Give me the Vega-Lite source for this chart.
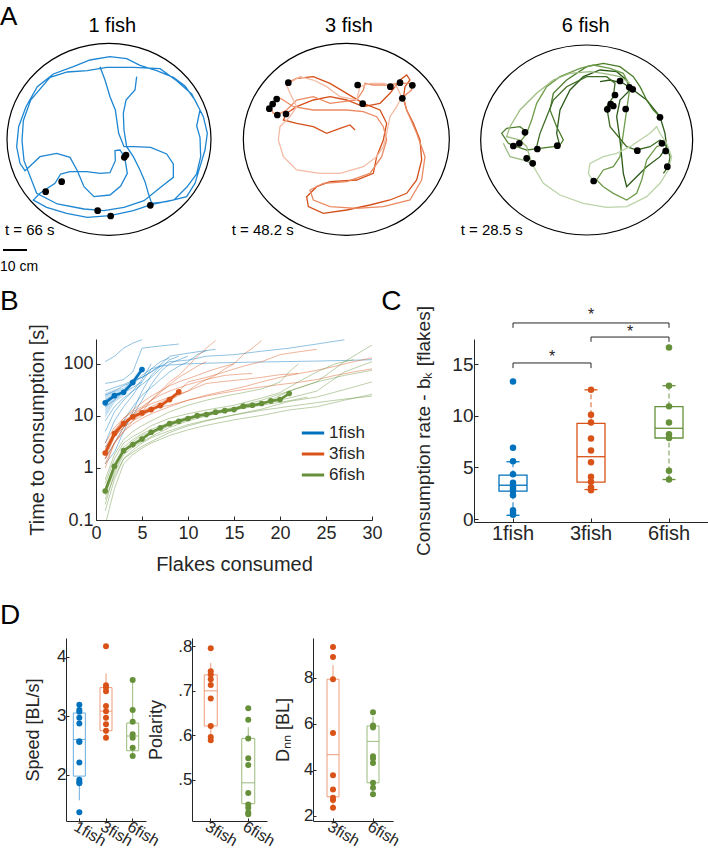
{
"$schema":"https://vega.github.io/schema/vega-lite/v6.json",
"padding":0,
"background":"white",
"config":{"font":"Liberation Sans","view":{"stroke":null,"fill":"transparent"},
 "axis":{"labelFont":"Liberation Sans","titleFont":"Liberation Sans","labelColor":"#262626","titleColor":"#262626","domainColor":"#262626","tickColor":"#262626","grid":false,"titleFontWeight":"normal","domainWidth":1,"tickWidth":1},
 "text":{"font":"Liberation Sans","color":"#000000"},
 "legend":{"labelFont":"Liberation Sans"}},
"datasets":{
"tr1":[{"p":"a","x":410,"y":230},{"p":"a","x":405,"y":270},{"p":"a","x":378,"y":300},{"p":"a","x":370,"y":340},{"p":"a","x":372,"y":390},{"p":"a","x":380,"y":440},{"p":"a","x":400,"y":470},{"p":"a","x":420,"y":510},{"p":"a","x":435,"y":545},{"p":"a","x":445,"y":580},{"p":"a","x":455,"y":610},{"p":"a","x":500,"y":605},{"p":"a","x":560,"y":590},{"p":"a","x":585,"y":550},{"p":"a","x":600,"y":500},{"p":"a","x":615,"y":450},{"p":"a","x":622,"y":400},{"p":"a","x":610,"y":350},{"p":"a","x":585,"y":300},{"p":"a","x":555,"y":258},{"p":"a","x":520,"y":232},{"p":"a","x":470,"y":212},{"p":"a","x":420,"y":196},{"p":"a","x":380,"y":176},{"p":"a","x":330,"y":170},{"p":"a","x":270,"y":180},{"p":"a","x":220,"y":200},{"p":"a","x":160,"y":222},{"p":"a","x":112,"y":260},{"p":"a","x":78,"y":320},{"p":"a","x":56,"y":380},{"p":"a","x":50,"y":440},{"p":"a","x":60,"y":490},{"p":"a","x":75,"y":512},{"p":"a","x":88,"y":500},{"p":"a","x":120,"y":470},{"p":"a","x":170,"y":460},{"p":"a","x":210,"y":472},{"p":"a","x":232,"y":512},{"p":"a","x":252,"y":560},{"p":"a","x":282,"y":590},{"p":"a","x":330,"y":585},{"p":"a","x":362,"y":558},{"p":"a","x":382,"y":520},{"p":"a","x":374,"y":472},{"p":"a","x":360,"y":450},{"p":"a","x":345,"y":452},{"p":"a","x":346,"y":482},{"p":"a","x":330,"y":518},{"p":"a","x":300,"y":520},{"p":"a","x":260,"y":515},{"p":"a","x":210,"y":515},{"p":"a","x":182,"y":522},{"p":"a","x":165,"y":550},{"p":"a","x":120,"y":580},{"p":"a","x":100,"y":600},{"p":"a","x":140,"y":622},{"p":"a","x":200,"y":640},{"p":"a","x":262,"y":652},{"p":"a","x":330,"y":647},{"p":"a","x":400,"y":632},{"p":"a","x":460,"y":612},{"p":"a","x":522,"y":600},{"p":"a","x":560,"y":562},{"p":"a","x":590,"y":522},{"p":"a","x":602,"y":470},{"p":"a","x":600,"y":412},{"p":"a","x":590,"y":378},{"p":"a","x":600,"y":330},{"p":"a","x":575,"y":282},{"p":"a","x":530,"y":242},{"p":"a","x":480,"y":206},{"p":"a","x":400,"y":202},{"p":"a","x":320,"y":202},{"p":"a","x":262,"y":212},{"p":"a","x":202,"y":216},{"p":"a","x":150,"y":232},{"p":"a","x":92,"y":300},{"p":"a","x":70,"y":362},{"p":"a","x":66,"y":422},{"p":"a","x":72,"y":482},{"p":"a","x":110,"y":580},{"p":"a","x":172,"y":612},{"p":"a","x":252,"y":627},{"p":"a","x":312,"y":632},{"p":"a","x":372,"y":622},{"p":"a","x":432,"y":602},{"p":"a","x":482,"y":562},{"p":"a","x":520,"y":532},{"p":"a","x":520,"y":492},{"p":"a","x":500,"y":462},{"p":"a","x":452,"y":442},{"p":"a","x":402,"y":440},{"p":"a","x":372,"y":440},{"p":"a","x":356,"y":400},{"p":"a","x":346,"y":330},{"p":"a","x":330,"y":290},{"p":"a","x":315,"y":240},{"p":"a","x":300,"y":200}],
"dot1":[{"x":378,"y":465},{"x":373,"y":472},{"x":185,"y":545},{"x":137,"y":575},{"x":293,"y":632},{"x":332,"y":648},{"x":451,"y":616}],
"tr2":[{"p":"a","x":175,"y":248},{"p":"a","x":200,"y":235},{"p":"a","x":250,"y":230},{"p":"a","x":300,"y":250},{"p":"a","x":350,"y":280},{"p":"a","x":400,"y":310},{"p":"a","x":450,"y":330},{"p":"a","x":470,"y":370},{"p":"a","x":460,"y":420},{"p":"a","x":440,"y":470},{"p":"a","x":430,"y":520},{"p":"a","x":380,"y":540},{"p":"a","x":300,"y":545},{"p":"a","x":260,"y":560},{"p":"a","x":230,"y":590},{"p":"a","x":235,"y":620},{"p":"a","x":280,"y":640},{"p":"a","x":350,"y":630},{"p":"a","x":420,"y":615},{"p":"a","x":480,"y":600},{"p":"a","x":530,"y":580},{"p":"a","x":560,"y":540},{"p":"a","x":575,"y":480},{"p":"a","x":570,"y":420},{"p":"a","x":550,"y":370},{"p":"a","x":530,"y":330},{"p":"a","x":520,"y":295},{"p":"a","x":525,"y":260},{"p":"a","x":540,"y":240},{"p":"a","x":530,"y":225},{"p":"a","x":510,"y":240},{"p":"a","x":480,"y":280},{"p":"a","x":450,"y":310},{"p":"a","x":400,"y":320},{"p":"a","x":350,"y":300},{"p":"a","x":300,"y":290},{"p":"a","x":250,"y":300},{"p":"a","x":200,"y":320},{"p":"a","x":170,"y":340},{"p":"a","x":160,"y":360},{"p":"a","x":200,"y":370},{"p":"a","x":250,"y":380},{"p":"a","x":290,"y":400},{"p":"a","x":330,"y":385},{"p":"a","x":360,"y":375},{"p":"a","x":375,"y":390},
{"p":"b","x":140,"y":300},{"p":"b","x":120,"y":320},{"p":"b","x":130,"y":340},{"p":"b","x":150,"y":340},{"p":"b","x":170,"y":330},{"p":"b","x":200,"y":300},{"p":"b","x":250,"y":290},{"p":"b","x":300,"y":310},{"p":"b","x":380,"y":300},{"p":"b","x":400,"y":270},{"p":"b","x":405,"y":250},{"p":"b","x":430,"y":255},{"p":"b","x":470,"y":255},{"p":"b","x":505,"y":250},{"p":"b","x":540,"y":250},{"p":"b","x":545,"y":270},{"p":"b","x":520,"y":290},{"p":"b","x":530,"y":330},{"p":"b","x":560,"y":400},{"p":"b","x":585,"y":470},{"p":"b","x":575,"y":540},{"p":"b","x":540,"y":600},{"p":"b","x":460,"y":620},{"p":"b","x":380,"y":625},{"p":"b","x":300,"y":620},{"p":"b","x":250,"y":600},{"p":"b","x":240,"y":570},{"p":"b","x":280,"y":550},{"p":"b","x":350,"y":545},{"p":"b","x":420,"y":520},{"p":"b","x":455,"y":470},{"p":"b","x":470,"y":420},{"p":"b","x":460,"y":380},{"p":"b","x":440,"y":350},{"p":"b","x":400,"y":335},{"p":"b","x":350,"y":330},{"p":"b","x":300,"y":330},{"p":"b","x":250,"y":330},{"p":"b","x":190,"y":320},{"p":"b","x":160,"y":300},{"p":"b","x":140,"y":290},
{"p":"c","x":170,"y":255},{"p":"c","x":180,"y":280},{"p":"c","x":200,"y":320},{"p":"c","x":180,"y":350},{"p":"c","x":150,"y":380},{"p":"c","x":145,"y":420},{"p":"c","x":160,"y":470},{"p":"c","x":200,"y":510},{"p":"c","x":270,"y":520},{"p":"c","x":330,"y":520},{"p":"c","x":400,"y":500},{"p":"c","x":440,"y":470},{"p":"c","x":460,"y":440},{"p":"c","x":470,"y":400},{"p":"c","x":480,"y":350},{"p":"c","x":500,"y":320},{"p":"c","x":515,"y":290},{"p":"c","x":500,"y":260},{"p":"c","x":460,"y":250},{"p":"c","x":420,"y":250},{"p":"c","x":390,"y":260},{"p":"c","x":380,"y":300},{"p":"c","x":330,"y":290},{"p":"c","x":290,"y":260},{"p":"c","x":250,"y":240},{"p":"c","x":210,"y":230},{"p":"c","x":175,"y":250}],
"dot2":[{"x":175,"y":248},{"x":140,"y":297},{"x":128,"y":312},{"x":118,"y":326},{"x":142,"y":345},{"x":168,"y":342},{"x":383,"y":255},{"x":398,"y":311},{"x":481,"y":260},{"x":510,"y":248},{"x":547,"y":256},{"x":517,"y":295}],
"tr3":[{"p":"a","x":300,"y":440},{"p":"a","x":290,"y":400},{"p":"a","x":300,"y":330},{"p":"a","x":330,"y":270},{"p":"a","x":370,"y":230},{"p":"a","x":420,"y":210},{"p":"a","x":470,"y":215},{"p":"a","x":500,"y":240},{"p":"a","x":510,"y":270},{"p":"a","x":480,"y":300},{"p":"a","x":470,"y":350},{"p":"a","x":480,"y":420},{"p":"a","x":490,"y":520},{"p":"a","x":500,"y":560},{"p":"a","x":520,"y":540},{"p":"a","x":560,"y":500},{"p":"a","x":600,"y":470},{"p":"a","x":620,"y":440},{"p":"a","x":615,"y":400},{"p":"a","x":600,"y":350},{"p":"a","x":560,"y":300},{"p":"a","x":520,"y":270},{"p":"a","x":490,"y":250},{"p":"a","x":450,"y":240},{"p":"a","x":420,"y":245},
{"p":"b","x":200,"y":395},{"p":"b","x":180,"y":380},{"p":"b","x":140,"y":385},{"p":"b","x":125,"y":400},{"p":"b","x":145,"y":430},{"p":"b","x":170,"y":440},{"p":"b","x":200,"y":450},{"p":"b","x":240,"y":445},{"p":"b","x":280,"y":440},{"p":"b","x":300,"y":435},{"p":"b","x":310,"y":420},{"p":"b","x":290,"y":380},{"p":"b","x":270,"y":330},{"p":"b","x":280,"y":280},{"p":"b","x":320,"y":240},{"p":"b","x":380,"y":200},{"p":"b","x":430,"y":190},{"p":"b","x":480,"y":200},{"p":"b","x":520,"y":230},{"p":"b","x":540,"y":260},{"p":"b","x":560,"y":300},{"p":"b","x":580,"y":330},{"p":"b","x":600,"y":350},
{"p":"c","x":160,"y":440},{"p":"c","x":185,"y":420},{"p":"c","x":200,"y":400},{"p":"c","x":215,"y":360},{"p":"c","x":230,"y":310},{"p":"c","x":260,"y":260},{"p":"c","x":300,"y":230},{"p":"c","x":360,"y":205},{"p":"c","x":400,"y":195},{"p":"c","x":450,"y":205},{"p":"c","x":490,"y":220},{"p":"c","x":510,"y":260},{"p":"c","x":500,"y":330},{"p":"c","x":490,"y":400},{"p":"c","x":480,"y":470},{"p":"c","x":460,"y":500},{"p":"c","x":430,"y":510},{"p":"c","x":410,"y":540},{"p":"c","x":430,"y":560},{"p":"c","x":460,"y":580},{"p":"c","x":500,"y":600},{"p":"c","x":530,"y":580},{"p":"c","x":545,"y":540},{"p":"c","x":560,"y":480},{"p":"c","x":590,"y":440},{"p":"c","x":615,"y":430},
{"p":"d","x":230,"y":440},{"p":"d","x":240,"y":400},{"p":"d","x":260,"y":350},{"p":"d","x":280,"y":300},{"p":"d","x":320,"y":260},{"p":"d","x":380,"y":230},{"p":"d","x":440,"y":230},{"p":"d","x":465,"y":250},{"p":"d","x":460,"y":290},{"p":"d","x":440,"y":320},{"p":"d","x":450,"y":380},{"p":"d","x":500,"y":440},{"p":"d","x":530,"y":450},{"p":"d","x":570,"y":440},{"p":"d","x":600,"y":420},{"p":"d","x":620,"y":440},{"p":"d","x":630,"y":470},{"p":"d","x":625,"y":500},{"p":"d","x":610,"y":520},
{"p":"e","x":130,"y":430},{"p":"e","x":150,"y":470},{"p":"e","x":190,"y":480},{"p":"e","x":215,"y":490},{"p":"e","x":200,"y":440},{"p":"e","x":180,"y":420},{"p":"e","x":140,"y":410},{"p":"e","x":150,"y":380},{"p":"e","x":180,"y":330},{"p":"e","x":230,"y":280},{"p":"e","x":280,"y":240},{"p":"e","x":330,"y":220},{"p":"e","x":390,"y":215},{"p":"e","x":430,"y":220},{"p":"e","x":480,"y":230},{"p":"e","x":510,"y":250},
{"p":"f","x":215,"y":490},{"p":"f","x":250,"y":550},{"p":"f","x":300,"y":585},{"p":"f","x":370,"y":610},{"p":"f","x":440,"y":622},{"p":"f","x":500,"y":620},{"p":"f","x":560,"y":590},{"p":"f","x":600,"y":550},{"p":"f","x":625,"y":510},{"p":"f","x":635,"y":470},{"p":"f","x":620,"y":430},{"p":"f","x":600,"y":400},{"p":"f","x":590,"y":380},{"p":"f","x":570,"y":400},{"p":"f","x":540,"y":420},{"p":"f","x":510,"y":440},{"p":"f","x":470,"y":460},{"p":"f","x":430,"y":470},{"p":"f","x":390,"y":490},{"p":"f","x":385,"y":520},{"p":"f","x":400,"y":545}],
"dot3":[{"x":480,"y":243},{"x":508,"y":262},{"x":518,"y":268},{"x":465,"y":285},{"x":452,"y":312},{"x":460,"y":318},{"x":442,"y":328},{"x":497,"y":327},{"x":600,"y":352},{"x":195,"y":397},{"x":178,"y":430},{"x":160,"y":438},{"x":232,"y":447},{"x":292,"y":437},{"x":200,"y":475},{"x":218,"y":490},{"x":532,"y":452},{"x":606,"y":430},{"x":617,"y":453},{"x":622,"y":500},{"x":401,"y":543}],
"bmean":[{"g":"1fish","x":1,"m":17.8,"lo":9.2,"hi":27.6},{"g":"1fish","x":2,"m":24.5,"lo":18,"hi":32},{"g":"1fish","x":3,"m":28.5,"lo":24,"hi":35},{"g":"1fish","x":4,"m":44,"lo":38,"hi":52},{"g":"1fish","x":5,"m":78,"lo":68,"hi":90},
{"g":"3fish","x":1,"m":1.94,"lo":1.6,"hi":2.4},{"g":"3fish","x":2,"m":4.57,"lo":3.8,"hi":5.6},{"g":"3fish","x":3,"m":7.1,"lo":6.1,"hi":8.3},{"g":"3fish","x":4,"m":9.6,"lo":8.6,"hi":10.8},{"g":"3fish","x":5,"m":11.4,"lo":10.3,"hi":12.6},{"g":"3fish","x":6,"m":13.2,"lo":12,"hi":14.6},{"g":"3fish","x":7,"m":15.8,"lo":14.3,"hi":17.4},{"g":"3fish","x":8,"m":20.6,"lo":18.6,"hi":22.8},{"g":"3fish","x":9,"m":28.9,"lo":26,"hi":32},
{"g":"6fish","x":1,"m":0.36,"lo":0.3,"hi":0.44},{"g":"6fish","x":2,"m":1.08,"lo":0.95,"hi":1.22},{"g":"6fish","x":3,"m":2.15,"lo":1.95,"hi":2.4},{"g":"6fish","x":4,"m":2.81,"lo":2.6,"hi":3.05},{"g":"6fish","x":5,"m":3.6,"lo":3.3,"hi":3.9},{"g":"6fish","x":6,"m":4.85,"lo":4.5,"hi":5.2},{"g":"6fish","x":7,"m":5.9,"lo":5.5,"hi":6.3},{"g":"6fish","x":8,"m":7.1,"lo":6.6,"hi":7.6},{"g":"6fish","x":9,"m":7.9,"lo":7.4,"hi":8.5},{"g":"6fish","x":10,"m":8.9,"lo":8.3,"hi":9.5},{"g":"6fish","x":11,"m":10.1,"lo":9.4,"hi":10.8},{"g":"6fish","x":12,"m":10.6,"lo":9.9,"hi":11.4},{"g":"6fish","x":13,"m":11.8,"lo":11,"hi":12.6},{"g":"6fish","x":14,"m":12.6,"lo":11.8,"hi":13.5},{"g":"6fish","x":15,"m":13.2,"lo":12.3,"hi":14.1},{"g":"6fish","x":16,"m":15.4,"lo":14.4,"hi":16.5},{"g":"6fish","x":17,"m":16,"lo":15,"hi":17.1},{"g":"6fish","x":18,"m":17.3,"lo":16.2,"hi":18.5},{"g":"6fish","x":19,"m":19.4,"lo":18.1,"hi":20.7},{"g":"6fish","x":20,"m":20.6,"lo":19.2,"hi":22},{"g":"6fish","x":21,"m":26.9,"lo":25,"hi":28.8}],
"btr":[
{"g":"1fish","t":"b1","x":1,"y":110},{"g":"1fish","t":"b1","x":2,"y":140},{"g":"1fish","t":"b1","x":3,"y":200},{"g":"1fish","t":"b1","x":4,"y":250},{"g":"1fish","t":"b1","x":5,"y":290},
{"g":"1fish","t":"b2","x":1,"y":42},{"g":"1fish","t":"b2","x":2,"y":45},{"g":"1fish","t":"b2","x":3,"y":50},{"g":"1fish","t":"b2","x":4,"y":70},{"g":"1fish","t":"b2","x":5,"y":200},{"g":"1fish","t":"b2","x":6,"y":210},{"g":"1fish","t":"b2","x":7,"y":220},{"g":"1fish","t":"b2","x":8,"y":230},{"g":"1fish","t":"b2","x":9,"y":240},
{"g":"1fish","t":"b3","x":1,"y":30},{"g":"1fish","t":"b3","x":2,"y":35},{"g":"1fish","t":"b3","x":3,"y":40},{"g":"1fish","t":"b3","x":4,"y":48},{"g":"1fish","t":"b3","x":5,"y":55},{"g":"1fish","t":"b3","x":6,"y":70},{"g":"1fish","t":"b3","x":7,"y":95},{"g":"1fish","t":"b3","x":8,"y":140},{"g":"1fish","t":"b3","x":9,"y":150},{"g":"1fish","t":"b3","x":10,"y":160},{"g":"1fish","t":"b3","x":11,"y":170},{"g":"1fish","t":"b3","x":12,"y":180},{"g":"1fish","t":"b3","x":13,"y":190},
{"g":"1fish","t":"b4","x":1,"y":25},{"g":"1fish","t":"b4","x":2,"y":30},{"g":"1fish","t":"b4","x":3,"y":38},{"g":"1fish","t":"b4","x":4,"y":45},{"g":"1fish","t":"b4","x":5,"y":55},{"g":"1fish","t":"b4","x":6,"y":70},{"g":"1fish","t":"b4","x":7,"y":90},{"g":"1fish","t":"b4","x":8,"y":110},{"g":"1fish","t":"b4","x":10,"y":118},{"g":"1fish","t":"b4","x":12,"y":140},{"g":"1fish","t":"b4","x":15,"y":150},{"g":"1fish","t":"b4","x":18,"y":175},{"g":"1fish","t":"b4","x":21,"y":200},{"g":"1fish","t":"b4","x":24,"y":240},{"g":"1fish","t":"b4","x":27,"y":290},
{"g":"1fish","t":"b5","x":1,"y":15},{"g":"1fish","t":"b5","x":2,"y":20},{"g":"1fish","t":"b5","x":3,"y":30},{"g":"1fish","t":"b5","x":4,"y":40},{"g":"1fish","t":"b5","x":5,"y":60},{"g":"1fish","t":"b5","x":6,"y":80},{"g":"1fish","t":"b5","x":7,"y":90},{"g":"1fish","t":"b5","x":8,"y":95},{"g":"1fish","t":"b5","x":10,"y":100},{"g":"1fish","t":"b5","x":13,"y":104},{"g":"1fish","t":"b5","x":16,"y":107},{"g":"1fish","t":"b5","x":20,"y":110},{"g":"1fish","t":"b5","x":24,"y":113},{"g":"1fish","t":"b5","x":27,"y":116},{"g":"1fish","t":"b5","x":30,"y":120},
{"g":"1fish","t":"b6","x":1,"y":3},{"g":"1fish","t":"b6","x":2,"y":8},{"g":"1fish","t":"b6","x":3,"y":15},{"g":"1fish","t":"b6","x":4,"y":25},{"g":"1fish","t":"b6","x":5,"y":45},{"g":"1fish","t":"b6","x":6,"y":80},{"g":"1fish","t":"b6","x":7,"y":110},{"g":"1fish","t":"b6","x":8,"y":130},
{"g":"1fish","t":"b7","x":1,"y":1.5},{"g":"1fish","t":"b7","x":2,"y":3},{"g":"1fish","t":"b7","x":3,"y":6},{"g":"1fish","t":"b7","x":4,"y":10},{"g":"1fish","t":"b7","x":5,"y":20},{"g":"1fish","t":"b7","x":6,"y":40},{"g":"1fish","t":"b7","x":7,"y":70},{"g":"1fish","t":"b7","x":8,"y":100},{"g":"1fish","t":"b7","x":9,"y":120},{"g":"1fish","t":"b7","x":10,"y":140},
{"g":"1fish","t":"b8","x":1,"y":1.2},{"g":"1fish","t":"b8","x":2,"y":2},{"g":"1fish","t":"b8","x":3,"y":5},{"g":"1fish","t":"b8","x":4,"y":12},{"g":"1fish","t":"b8","x":5,"y":30},{"g":"1fish","t":"b8","x":6,"y":60},{"g":"1fish","t":"b8","x":7,"y":90},
{"g":"1fish","t":"b9","x":1,"y":5},{"g":"1fish","t":"b9","x":2,"y":12},{"g":"1fish","t":"b9","x":3,"y":20},{"g":"1fish","t":"b9","x":4,"y":30},{"g":"1fish","t":"b9","x":5,"y":50},{"g":"1fish","t":"b9","x":6,"y":100},
{"g":"1fish","t":"b10","x":1,"y":8},{"g":"1fish","t":"b10","x":2,"y":15},{"g":"1fish","t":"b10","x":3,"y":22},{"g":"1fish","t":"b10","x":4,"y":30},{"g":"1fish","t":"b10","x":5,"y":40},{"g":"1fish","t":"b10","x":6,"y":55},{"g":"1fish","t":"b10","x":7,"y":80},{"g":"1fish","t":"b10","x":8,"y":120},{"g":"1fish","t":"b10","x":9,"y":140},
{"g":"1fish","t":"b11","x":1,"y":2.5},{"g":"1fish","t":"b11","x":2,"y":4},{"g":"1fish","t":"b11","x":3,"y":8},{"g":"1fish","t":"b11","x":4,"y":15},{"g":"1fish","t":"b11","x":5,"y":25},{"g":"1fish","t":"b11","x":6,"y":35},{"g":"1fish","t":"b11","x":7,"y":50},{"g":"1fish","t":"b11","x":8,"y":70},{"g":"1fish","t":"b11","x":9,"y":90},{"g":"1fish","t":"b11","x":10,"y":110},{"g":"1fish","t":"b11","x":11,"y":150},{"g":"1fish","t":"b11","x":12,"y":180},
{"g":"1fish","t":"b12","x":1,"y":20},{"g":"1fish","t":"b12","x":2,"y":25},{"g":"1fish","t":"b12","x":3,"y":28},{"g":"1fish","t":"b12","x":4,"y":35},{"g":"1fish","t":"b12","x":5,"y":45},
{"g":"3fish","t":"o1","x":1,"y":1.5},{"g":"3fish","t":"o1","x":2,"y":3},{"g":"3fish","t":"o1","x":3,"y":5},{"g":"3fish","t":"o1","x":4,"y":8},{"g":"3fish","t":"o1","x":5,"y":12},{"g":"3fish","t":"o1","x":6,"y":20},{"g":"3fish","t":"o1","x":7,"y":30},{"g":"3fish","t":"o1","x":8,"y":45},{"g":"3fish","t":"o1","x":9,"y":60},{"g":"3fish","t":"o1","x":10,"y":90},{"g":"3fish","t":"o1","x":11,"y":140},{"g":"3fish","t":"o1","x":12,"y":200},{"g":"3fish","t":"o1","x":13,"y":280},
{"g":"3fish","t":"o2","x":1,"y":2},{"g":"3fish","t":"o2","x":2,"y":4},{"g":"3fish","t":"o2","x":3,"y":6},{"g":"3fish","t":"o2","x":4,"y":8},{"g":"3fish","t":"o2","x":5,"y":10},{"g":"3fish","t":"o2","x":6,"y":13},{"g":"3fish","t":"o2","x":7,"y":16},{"g":"3fish","t":"o2","x":8,"y":20},{"g":"3fish","t":"o2","x":9,"y":25},{"g":"3fish","t":"o2","x":10,"y":30},{"g":"3fish","t":"o2","x":11,"y":40},{"g":"3fish","t":"o2","x":12,"y":50},{"g":"3fish","t":"o2","x":13,"y":60},{"g":"3fish","t":"o2","x":14,"y":80},{"g":"3fish","t":"o2","x":15,"y":100},{"g":"3fish","t":"o2","x":16,"y":150},{"g":"3fish","t":"o2","x":17,"y":200},{"g":"3fish","t":"o2","x":18,"y":280},
{"g":"3fish","t":"o3","x":1,"y":2.5},{"g":"3fish","t":"o3","x":2,"y":5},{"g":"3fish","t":"o3","x":3,"y":8},{"g":"3fish","t":"o3","x":4,"y":10},{"g":"3fish","t":"o3","x":6,"y":15},{"g":"3fish","t":"o3","x":8,"y":22},{"g":"3fish","t":"o3","x":9,"y":30},{"g":"3fish","t":"o3","x":10,"y":45},{"g":"3fish","t":"o3","x":12,"y":55},{"g":"3fish","t":"o3","x":14,"y":70},{"g":"3fish","t":"o3","x":16,"y":90},{"g":"3fish","t":"o3","x":18,"y":110},{"g":"3fish","t":"o3","x":20,"y":150},{"g":"3fish","t":"o3","x":22,"y":170},{"g":"3fish","t":"o3","x":24,"y":190},
{"g":"3fish","t":"o4","x":1,"y":1.2},{"g":"3fish","t":"o4","x":2,"y":3},{"g":"3fish","t":"o4","x":3,"y":5},{"g":"3fish","t":"o4","x":4,"y":7},{"g":"3fish","t":"o4","x":5,"y":9},{"g":"3fish","t":"o4","x":6,"y":11},{"g":"3fish","t":"o4","x":8,"y":15},{"g":"3fish","t":"o4","x":10,"y":20},{"g":"3fish","t":"o4","x":12,"y":25},{"g":"3fish","t":"o4","x":14,"y":30},{"g":"3fish","t":"o4","x":16,"y":36},{"g":"3fish","t":"o4","x":18,"y":45},{"g":"3fish","t":"o4","x":20,"y":55},{"g":"3fish","t":"o4","x":22,"y":65},{"g":"3fish","t":"o4","x":24,"y":75},{"g":"3fish","t":"o4","x":26,"y":90},{"g":"3fish","t":"o4","x":28,"y":110},{"g":"3fish","t":"o4","x":30,"y":130},
{"g":"3fish","t":"o5","x":1,"y":1.8},{"g":"3fish","t":"o5","x":2,"y":4},{"g":"3fish","t":"o5","x":3,"y":7},{"g":"3fish","t":"o5","x":4,"y":10},{"g":"3fish","t":"o5","x":5,"y":12},{"g":"3fish","t":"o5","x":6,"y":14},{"g":"3fish","t":"o5","x":8,"y":16},{"g":"3fish","t":"o5","x":10,"y":20},{"g":"3fish","t":"o5","x":12,"y":24},{"g":"3fish","t":"o5","x":14,"y":28},{"g":"3fish","t":"o5","x":16,"y":32},{"g":"3fish","t":"o5","x":18,"y":36},{"g":"3fish","t":"o5","x":20,"y":40},{"g":"3fish","t":"o5","x":22,"y":44},{"g":"3fish","t":"o5","x":24,"y":50},{"g":"3fish","t":"o5","x":26,"y":60},{"g":"3fish","t":"o5","x":28,"y":70},{"g":"3fish","t":"o5","x":30,"y":80},
{"g":"3fish","t":"o6","x":1,"y":1},{"g":"3fish","t":"o6","x":2,"y":3},{"g":"3fish","t":"o6","x":3,"y":6},{"g":"3fish","t":"o6","x":4,"y":10},{"g":"3fish","t":"o6","x":5,"y":14},{"g":"3fish","t":"o6","x":6,"y":20},{"g":"3fish","t":"o6","x":7,"y":25},{"g":"3fish","t":"o6","x":8,"y":30},{"g":"3fish","t":"o6","x":10,"y":40},{"g":"3fish","t":"o6","x":12,"y":50},{"g":"3fish","t":"o6","x":14,"y":60},{"g":"3fish","t":"o6","x":16,"y":64},{"g":"3fish","t":"o6","x":17,"y":65},
{"g":"3fish","t":"o7","x":1,"y":3},{"g":"3fish","t":"o7","x":2,"y":6},{"g":"3fish","t":"o7","x":3,"y":9},{"g":"3fish","t":"o7","x":4,"y":12},{"g":"3fish","t":"o7","x":5,"y":15},{"g":"3fish","t":"o7","x":6,"y":20},{"g":"3fish","t":"o7","x":7,"y":28},{"g":"3fish","t":"o7","x":8,"y":40},{"g":"3fish","t":"o7","x":9,"y":55},{"g":"3fish","t":"o7","x":10,"y":70},{"g":"3fish","t":"o7","x":11,"y":90},{"g":"3fish","t":"o7","x":12,"y":110},
{"g":"3fish","t":"o8","x":1,"y":2.2},{"g":"3fish","t":"o8","x":2,"y":5},{"g":"3fish","t":"o8","x":3,"y":9},{"g":"3fish","t":"o8","x":4,"y":13},{"g":"3fish","t":"o8","x":5,"y":18},{"g":"3fish","t":"o8","x":6,"y":24},{"g":"3fish","t":"o8","x":7,"y":30},{"g":"3fish","t":"o8","x":8,"y":38},{"g":"3fish","t":"o8","x":9,"y":45},{"g":"3fish","t":"o8","x":10,"y":52},{"g":"3fish","t":"o8","x":11,"y":60},{"g":"3fish","t":"o8","x":12,"y":70},{"g":"3fish","t":"o8","x":13,"y":80},{"g":"3fish","t":"o8","x":14,"y":90},{"g":"3fish","t":"o8","x":15,"y":100},
{"g":"3fish","t":"o9","x":1,"y":1.5},{"g":"3fish","t":"o9","x":2,"y":4},{"g":"3fish","t":"o9","x":3,"y":7},{"g":"3fish","t":"o9","x":4,"y":11},{"g":"3fish","t":"o9","x":5,"y":14},{"g":"3fish","t":"o9","x":6,"y":17},{"g":"3fish","t":"o9","x":8,"y":23},{"g":"3fish","t":"o9","x":10,"y":30},{"g":"3fish","t":"o9","x":12,"y":42},{"g":"3fish","t":"o9","x":14,"y":46},{"g":"3fish","t":"o9","x":16,"y":50},{"g":"3fish","t":"o9","x":18,"y":55},{"g":"3fish","t":"o9","x":20,"y":62},{"g":"3fish","t":"o9","x":22,"y":65},
{"g":"6fish","t":"g1","x":1,"y":0.3},{"g":"6fish","t":"g1","x":2,"y":0.9},{"g":"6fish","t":"g1","x":3,"y":2},{"g":"6fish","t":"g1","x":4,"y":2.8},{"g":"6fish","t":"g1","x":5,"y":3.5},{"g":"6fish","t":"g1","x":6,"y":4.5},{"g":"6fish","t":"g1","x":8,"y":6.5},{"g":"6fish","t":"g1","x":10,"y":8.5},{"g":"6fish","t":"g1","x":12,"y":10.5},{"g":"6fish","t":"g1","x":15,"y":13.5},{"g":"6fish","t":"g1","x":18,"y":16.5},{"g":"6fish","t":"g1","x":21,"y":30},{"g":"6fish","t":"g1","x":24,"y":45},{"g":"6fish","t":"g1","x":27,"y":110},{"g":"6fish","t":"g1","x":30,"y":230},
{"g":"6fish","t":"g2","x":1,"y":0.15},{"g":"6fish","t":"g2","x":2,"y":0.6},{"g":"6fish","t":"g2","x":3,"y":1.5},{"g":"6fish","t":"g2","x":4,"y":2.2},{"g":"6fish","t":"g2","x":5,"y":3},{"g":"6fish","t":"g2","x":6,"y":3.8},{"g":"6fish","t":"g2","x":8,"y":5.2},{"g":"6fish","t":"g2","x":10,"y":6.8},{"g":"6fish","t":"g2","x":12,"y":8.2},{"g":"6fish","t":"g2","x":15,"y":10.5},{"g":"6fish","t":"g2","x":18,"y":13.5},{"g":"6fish","t":"g2","x":21,"y":19},{"g":"6fish","t":"g2","x":24,"y":23},{"g":"6fish","t":"g2","x":27,"y":32},{"g":"6fish","t":"g2","x":30,"y":45},
{"g":"6fish","t":"g3","x":1,"y":0.08},{"g":"6fish","t":"g3","x":2,"y":0.4},{"g":"6fish","t":"g3","x":3,"y":1.2},{"g":"6fish","t":"g3","x":4,"y":1.8},{"g":"6fish","t":"g3","x":5,"y":2.4},{"g":"6fish","t":"g3","x":6,"y":3},{"g":"6fish","t":"g3","x":8,"y":4.2},{"g":"6fish","t":"g3","x":10,"y":5.4},{"g":"6fish","t":"g3","x":12,"y":6.6},{"g":"6fish","t":"g3","x":15,"y":8.4},{"g":"6fish","t":"g3","x":18,"y":10.2},{"g":"6fish","t":"g3","x":21,"y":13},{"g":"6fish","t":"g3","x":24,"y":15},{"g":"6fish","t":"g3","x":27,"y":20},{"g":"6fish","t":"g3","x":30,"y":26},
{"g":"6fish","t":"g4","x":1,"y":0.5},{"g":"6fish","t":"g4","x":2,"y":1.5},{"g":"6fish","t":"g4","x":3,"y":3},{"g":"6fish","t":"g4","x":4,"y":4},{"g":"6fish","t":"g4","x":5,"y":5},{"g":"6fish","t":"g4","x":6,"y":6.5},{"g":"6fish","t":"g4","x":8,"y":9},{"g":"6fish","t":"g4","x":10,"y":11},{"g":"6fish","t":"g4","x":12,"y":13},{"g":"6fish","t":"g4","x":15,"y":16},{"g":"6fish","t":"g4","x":18,"y":22},{"g":"6fish","t":"g4","x":20,"y":28},{"g":"6fish","t":"g4","x":22,"y":45},{"g":"6fish","t":"g4","x":24,"y":70},{"g":"6fish","t":"g4","x":26,"y":100},{"g":"6fish","t":"g4","x":28,"y":120},
{"g":"6fish","t":"g5","x":1,"y":0.2},{"g":"6fish","t":"g5","x":2,"y":0.8},{"g":"6fish","t":"g5","x":3,"y":1.8},{"g":"6fish","t":"g5","x":4,"y":2.5},{"g":"6fish","t":"g5","x":5,"y":3.2},{"g":"6fish","t":"g5","x":6,"y":4},{"g":"6fish","t":"g5","x":8,"y":6},{"g":"6fish","t":"g5","x":10,"y":8},{"g":"6fish","t":"g5","x":12,"y":10},{"g":"6fish","t":"g5","x":15,"y":13},{"g":"6fish","t":"g5","x":18,"y":16},{"g":"6fish","t":"g5","x":21,"y":19.5},{"g":"6fish","t":"g5","x":23,"y":23},
{"g":"6fish","t":"g6","x":1,"y":0.4},{"g":"6fish","t":"g6","x":2,"y":1.2},{"g":"6fish","t":"g6","x":3,"y":2.5},{"g":"6fish","t":"g6","x":4,"y":3.5},{"g":"6fish","t":"g6","x":5,"y":4.5},{"g":"6fish","t":"g6","x":6,"y":5.5},{"g":"6fish","t":"g6","x":8,"y":7.5},{"g":"6fish","t":"g6","x":10,"y":9.5},{"g":"6fish","t":"g6","x":12,"y":11.5},{"g":"6fish","t":"g6","x":15,"y":14.5},{"g":"6fish","t":"g6","x":18,"y":20},{"g":"6fish","t":"g6","x":21,"y":30},{"g":"6fish","t":"g6","x":24,"y":45},{"g":"6fish","t":"g6","x":27,"y":60},{"g":"6fish","t":"g6","x":30,"y":75},
{"g":"6fish","t":"g7","x":1,"y":0.6},{"g":"6fish","t":"g7","x":2,"y":1.8},{"g":"6fish","t":"g7","x":3,"y":3.5},{"g":"6fish","t":"g7","x":4,"y":5},{"g":"6fish","t":"g7","x":5,"y":6.5},{"g":"6fish","t":"g7","x":6,"y":8},{"g":"6fish","t":"g7","x":8,"y":12},{"g":"6fish","t":"g7","x":10,"y":16},{"g":"6fish","t":"g7","x":12,"y":20},{"g":"6fish","t":"g7","x":14,"y":24},{"g":"6fish","t":"g7","x":16,"y":28},{"g":"6fish","t":"g7","x":18,"y":33},{"g":"6fish","t":"g7","x":19,"y":38},{"g":"6fish","t":"g7","x":20,"y":45},{"g":"6fish","t":"g7","x":21,"y":70},{"g":"6fish","t":"g7","x":22,"y":100},
{"g":"6fish","t":"g8","x":1,"y":0.25},{"g":"6fish","t":"g8","x":2,"y":0.7},{"g":"6fish","t":"g8","x":3,"y":1.5},{"g":"6fish","t":"g8","x":4,"y":2},{"g":"6fish","t":"g8","x":5,"y":2.6},{"g":"6fish","t":"g8","x":6,"y":3.2},{"g":"6fish","t":"g8","x":8,"y":4.8},{"g":"6fish","t":"g8","x":10,"y":6.4},{"g":"6fish","t":"g8","x":12,"y":8},{"g":"6fish","t":"g8","x":15,"y":10.4},{"g":"6fish","t":"g8","x":18,"y":12.8},{"g":"6fish","t":"g8","x":21,"y":15.2},{"g":"6fish","t":"g8","x":24,"y":18},{"g":"6fish","t":"g8","x":27,"y":21},{"g":"6fish","t":"g8","x":30,"y":24},
{"g":"6fish","t":"g9","x":1,"y":0.35},{"g":"6fish","t":"g9","x":2,"y":1},{"g":"6fish","t":"g9","x":3,"y":2.2},{"g":"6fish","t":"g9","x":4,"y":3.2},{"g":"6fish","t":"g9","x":5,"y":4.2},{"g":"6fish","t":"g9","x":6,"y":5},{"g":"6fish","t":"g9","x":8,"y":7},{"g":"6fish","t":"g9","x":10,"y":9},{"g":"6fish","t":"g9","x":12,"y":11},{"g":"6fish","t":"g9","x":15,"y":14},{"g":"6fish","t":"g9","x":18,"y":17},{"g":"6fish","t":"g9","x":21,"y":22},{"g":"6fish","t":"g9","x":24,"y":30},{"g":"6fish","t":"g9","x":27,"y":70},{"g":"6fish","t":"g9","x":30,"y":110}],
"cbox":[{"g":"1fish","q1":2.69,"med":3.27,"q3":4.24,"lo":0.36,"hi":5.54},{"g":"3fish","q1":3.56,"med":6.03,"q3":9.26,"lo":2.85,"hi":12.5},{"g":"6fish","q1":7.84,"med":8.78,"q3":10.88,"lo":3.82,"hi":12.9}],
"cpts":[{"g":"1fish","v":13.3},{"g":"1fish","v":6.9},{"g":"1fish","v":5.6},{"g":"1fish","v":4.34},{"g":"1fish","v":3.5},{"g":"1fish","v":3.2},{"g":"1fish","v":2.95},{"g":"1fish","v":2.7},{"g":"1fish","v":2.3},{"g":"1fish","v":0.84},{"g":"1fish","v":0.6},{"g":"1fish","v":0.42},
{"g":"3fish","v":12.5},{"g":"3fish","v":10.1},{"g":"3fish","v":9.33},{"g":"3fish","v":7.8},{"g":"3fish","v":6.64},{"g":"3fish","v":5.5},{"g":"3fish","v":4.08},{"g":"3fish","v":3.6},{"g":"3fish","v":3.05},{"g":"3fish","v":2.79},
{"g":"6fish","v":16.6},{"g":"6fish","v":12.9},{"g":"6fish","v":10.9},{"g":"6fish","v":9.33},{"g":"6fish","v":8.2},{"g":"6fish","v":7.84},{"g":"6fish","v":4.66},{"g":"6fish","v":3.82}],
"cbr":[{"br":"a","g":"1fish","v":18.5},{"br":"a","g":"1fish","v":18.97},{"br":"a","g":"6fish","v":18.97},{"br":"a","g":"6fish","v":18.5},{"br":"b","g":"3fish","v":17.15},{"br":"b","g":"3fish","v":17.61},{"br":"b","g":"6fish","v":17.61},{"br":"b","g":"6fish","v":17.15},{"br":"c","g":"1fish","v":14.6},{"br":"c","g":"1fish","v":15.1},{"br":"c","g":"3fish","v":15.1},{"br":"c","g":"3fish","v":14.6}],
"spdbox":[{"g":"1fish","q1":1.98,"med":2.6,"q3":3.05,"lo":1.57,"hi":3.2},{"g":"3fish","q1":2.75,"med":3.08,"q3":3.48,"lo":2.63,"hi":3.72},{"g":"6fish","q1":2.41,"med":2.66,"q3":2.88,"lo":2.32,"hi":3.6}],
"spd":[{"g":"1fish","v":3.19},{"g":"1fish","v":3.1},{"g":"1fish","v":3.07},{"g":"1fish","v":2.97},{"g":"1fish","v":2.87},{"g":"1fish","v":2.57},{"g":"1fish","v":2.56},{"g":"1fish","v":2.21},{"g":"1fish","v":1.92},{"g":"1fish","v":1.88},{"g":"1fish","v":1.86},{"g":"1fish","v":1.37},
{"g":"3fish","v":4.18},{"g":"3fish","v":3.52},{"g":"3fish","v":3.48},{"g":"3fish","v":3.42},{"g":"3fish","v":3.17},{"g":"3fish","v":3.08},{"g":"3fish","v":2.97},{"g":"3fish","v":2.86},{"g":"3fish","v":2.75},{"g":"3fish","v":2.63},
{"g":"6fish","v":3.61},{"g":"6fish","v":3.1},{"g":"6fish","v":2.9},{"g":"6fish","v":2.69},{"g":"6fish","v":2.63},{"g":"6fish","v":2.46},{"g":"6fish","v":2.32}],
"polbox":[{"g":"3fish","q1":0.621,"med":0.70,"q3":0.736,"lo":0.589,"hi":0.763},{"g":"6fish","q1":0.446,"med":0.493,"q3":0.593,"lo":0.422,"hi":0.618}],
"pol":[{"g":"3fish","v":0.796},{"g":"3fish","v":0.744},{"g":"3fish","v":0.737},{"g":"3fish","v":0.726},{"g":"3fish","v":0.713},{"g":"3fish","v":0.683},{"g":"3fish","v":0.621},{"g":"3fish","v":0.596},{"g":"3fish","v":0.589},
{"g":"6fish","v":0.661},{"g":"6fish","v":0.635},{"g":"6fish","v":0.593},{"g":"6fish","v":0.548},{"g":"6fish","v":0.533},{"g":"6fish","v":0.47},{"g":"6fish","v":0.444},{"g":"6fish","v":0.437},{"g":"6fish","v":0.426},{"g":"6fish","v":0.422}],
"dnnbox":[{"g":"3fish","q1":2.83,"med":4.66,"q3":7.94,"lo":2.36,"hi":8.55},{"g":"6fish","q1":3.44,"med":5.24,"q3":5.91,"lo":2.94,"hi":6.32}],
"dnn":[{"g":"3fish","v":9.34},{"g":"3fish","v":8.91},{"g":"3fish","v":7.94},{"g":"3fish","v":5.6},{"g":"3fish","v":3.77},{"g":"3fish","v":3.15},{"g":"3fish","v":2.79},{"g":"3fish","v":2.69},{"g":"3fish","v":2.36},
{"g":"6fish","v":6.5},{"g":"6fish","v":5.93},{"g":"6fish","v":5.84},{"g":"6fish","v":4.59},{"g":"6fish","v":4.49},{"g":"6fish","v":4.3},{"g":"6fish","v":3.44},{"g":"6fish","v":3.22},{"g":"6fish","v":2.94}]
},
"columns":1,
"align":"none",
"spacing":10,
"resolve":{"scale":{"color":"independent"},"legend":{"color":"independent"}},
"concat":[
{"hconcat":[
 {"width":236,"height":278,"layer":[
  {"data":{"values":[{}]},"mark":{"type":"point","shape":"M-1,0A1,0.941,0,1,1,1,0A1,0.941,0,1,1,-1,0Z","size":41616,"filled":false,"stroke":"#000000","strokeWidth":1.2,"opacity":1},"encoding":{"x":{"datum":327,"type":"quantitative","scale":{"domain":[0,708],"nice":false,"zero":false},"axis":null},"y":{"datum":418,"type":"quantitative","scale":{"domain":[0,834],"nice":false,"zero":false,"reverse":true},"axis":null}}},
  {"data":{"name":"tr1"},"mark":{"type":"line","strokeWidth":1.3,"color":"#1E86D2"},"encoding":{"x":{"field":"x","type":"quantitative","axis":null},"y":{"field":"y","type":"quantitative","axis":null},"order":{"value":null}}},
  {"data":{"name":"dot1"},"mark":{"type":"point","filled":true,"color":"#000000","size":45,"opacity":1},"encoding":{"x":{"field":"x","type":"quantitative","axis":null},"y":{"field":"y","type":"quantitative","axis":null}}},
  {"data":{"values":[{}]},"mark":{"type":"text","text":"A","fontSize":26,"align":"left","baseline":"middle"},"encoding":{"x":{"datum":0,"axis":null},"y":{"datum":50,"axis":null}}},
  {"data":{"values":[{}]},"mark":{"type":"text","text":"1 fish","fontSize":20,"align":"center","baseline":"middle"},"encoding":{"x":{"datum":337,"axis":null},"y":{"datum":78,"axis":null}}},
  {"data":{"values":[{}]},"mark":{"type":"text","text":"t = 66 s","fontSize":15,"align":"left","baseline":"middle"},"encoding":{"x":{"datum":15,"axis":null},"y":{"datum":690,"axis":null}}},
  {"data":{"values":[{}]},"mark":{"type":"rule","strokeWidth":2,"color":"#000000"},"encoding":{"x":{"datum":9,"axis":null},"x2":{"datum":81},"y":{"datum":750,"axis":null}}},
  {"data":{"values":[{}]},"mark":{"type":"text","text":"10 cm","fontSize":14,"align":"left","baseline":"middle"},"encoding":{"x":{"datum":0,"axis":null},"y":{"datum":801,"axis":null}}}
 ]},
 {"width":236,"height":278,"layer":[
  {"data":{"values":[{}]},"mark":{"type":"point","shape":"M-1,0A1,0.932,0,1,1,1,0A1,0.932,0,1,1,-1,0Z","size":42436,"filled":false,"stroke":"#000000","strokeWidth":1.2,"opacity":1},"encoding":{"x":{"datum":349,"type":"quantitative","scale":{"domain":[18,726],"nice":false,"zero":false},"axis":null},"y":{"datum":418,"type":"quantitative","scale":{"domain":[0,834],"nice":false,"zero":false,"reverse":true},"axis":null}}},
  {"data":{"name":"tr2"},"mark":{"type":"line","strokeWidth":1.3},"encoding":{"x":{"field":"x","type":"quantitative","axis":null},"y":{"field":"y","type":"quantitative","axis":null},"color":{"field":"p","type":"nominal","scale":{"domain":["a","b","c"],"range":["#D4501A","#EC8A62","#F5BBA4"]},"legend":null},"order":{"value":null}}},
  {"data":{"name":"dot2"},"mark":{"type":"point","filled":true,"color":"#000000","size":45,"opacity":1},"encoding":{"x":{"field":"x","type":"quantitative","axis":null},"y":{"field":"y","type":"quantitative","axis":null}}},
  {"data":{"values":[{}]},"mark":{"type":"text","text":"3 fish","fontSize":20,"align":"center","baseline":"middle"},"encoding":{"x":{"datum":357,"axis":null},"y":{"datum":78,"axis":null}}},
  {"data":{"values":[{}]},"mark":{"type":"text","text":"t = 48.2 s","fontSize":15,"align":"left","baseline":"middle"},"encoding":{"x":{"datum":5,"axis":null},"y":{"datum":690,"axis":null}}}
 ]},
 {"width":236,"height":278,"layer":[
  {"data":{"values":[{}]},"mark":{"type":"point","shape":"M-1,0A1,0.896,0,1,1,1,0A1,0.896,0,1,1,-1,0Z","size":44944,"filled":false,"stroke":"#000000","strokeWidth":1.2,"opacity":1},"encoding":{"x":{"datum":380,"type":"quantitative","scale":{"domain":[36,744],"nice":false,"zero":false},"axis":null},"y":{"datum":420,"type":"quantitative","scale":{"domain":[0,834],"nice":false,"zero":false,"reverse":true},"axis":null}}},
  {"data":{"name":"tr3"},"mark":{"type":"line","strokeWidth":1.3},"encoding":{"x":{"field":"x","type":"quantitative","axis":null},"y":{"field":"y","type":"quantitative","axis":null},"color":{"field":"p","type":"nominal","scale":{"domain":["a","b","c","d","e","f"],"range":["#2C5A18","#4C7D2C","#6E9B4A","#3D6C24","#9DBD82","#BCD4A8"]},"legend":null},"order":{"value":null}}},
  {"data":{"name":"dot3"},"mark":{"type":"point","filled":true,"color":"#000000","size":45,"opacity":1},"encoding":{"x":{"field":"x","type":"quantitative","axis":null},"y":{"field":"y","type":"quantitative","axis":null}}},
  {"data":{"values":[{}]},"mark":{"type":"text","text":"6 fish","fontSize":20,"align":"center","baseline":"middle"},"encoding":{"x":{"datum":377,"axis":null},"y":{"datum":78,"axis":null}}},
  {"data":{"values":[{}]},"mark":{"type":"text","text":"t = 28.5 s","fontSize":15,"align":"left","baseline":"middle"},"encoding":{"x":{"datum":2,"axis":null},"y":{"datum":690,"axis":null}}}
 ]}
],"spacing":0,"bounds":"flush","resolve":{"scale":{"color":"independent"}}},
{"columns":1,"align":"none","spacing":28,"resolve":{"scale":{"color":"independent"},"legend":{"color":"independent"}},"concat":[
 {"hconcat":[
  {"width":96,"height":1,"data":{"values":[]},"mark":{"type":"point"}},
  {"hconcat":[
  {"width":276,"height":181,"layer":[
   {"data":{"name":"bmean"},"mark":{"type":"area","opacity":0.22},"encoding":{
     "x":{"field":"x","type":"quantitative","scale":{"domain":[0,30],"nice":false,"zero":false},"axis":{"values":[0,5,10,15,20,25,30],"labelFontSize":18,"tickSize":-4,"labelPadding":8,"title":"Flakes consumed","titleFontSize":20,"titlePadding":12,"labelFlush":false}},
     "y":{"field":"lo","type":"quantitative","scale":{"type":"log","domain":[0.1,300],"nice":false,"zero":false},"axis":{"values":[0.1,1,10,100],"format":"~g","labelFontSize":18,"tickSize":-4,"labelPadding":7,"title":"Time to consumption [s]","titleFontSize":20,"titlePadding":15}},
     "y2":{"field":"hi"},
     "color":{"field":"g","type":"nominal","scale":{"domain":["1fish","3fish","6fish"],"range":["#0072BD","#D95319","#66913A"]},"legend":{"orient":"none","legendX":204,"legendY":81,"title":null,"symbolType":"stroke","symbolStrokeWidth":3,"symbolSize":500,"symbolOpacity":1,"labelFontSize":17,"labelColor":"#262626","rowPadding":-9,"padding":0,"labelOffset":3,"encode":{"symbols":{"update":{"opacity":{"value":1},"strokeOpacity":{"value":1},"fillOpacity":{"value":0}}}}}}}},
   {"data":{"name":"btr"},"mark":{"type":"line","strokeWidth":0.8,"opacity":0.55,"clip":true},"encoding":{"x":{"field":"x","type":"quantitative"},"y":{"field":"y","type":"quantitative"},"color":{"field":"g","type":"nominal"},"detail":{"field":"t"}}},
   {"data":{"name":"bmean"},"mark":{"type":"line","strokeWidth":2.6},"encoding":{"x":{"field":"x","type":"quantitative"},"y":{"field":"m","type":"quantitative"},"color":{"field":"g","type":"nominal"}}},
   {"data":{"name":"bmean"},"mark":{"type":"point","filled":true,"size":32,"opacity":1},"encoding":{"x":{"field":"x","type":"quantitative"},"y":{"field":"m","type":"quantitative"},"color":{"field":"g","type":"nominal"}}},
   {"data":{"values":[{}]},"mark":{"type":"text","text":"B","fontSize":28,"align":"left","baseline":"middle"},"encoding":{"x":{"datum":-10.43},"y":{"datum":1540}}}
  ]},
  {"width":234,"height":183,"layer":[
   {"data":{"name":"cbox"},"mark":{"type":"rule","strokeWidth":1.1,"strokeDash":[5,3],"opacity":0.85},"encoding":{
     "x":{"field":"g","type":"nominal","scale":{"type":"band","domain":["1fish","3fish","6fish"],"paddingInner":0,"paddingOuter":0},"axis":{"title":null,"labelAngle":0,"labelFontSize":20,"tickSize":-4,"labelPadding":5}},
     "y":{"field":"q3","type":"quantitative","scale":{"domain":[-0.29,17.42],"nice":false,"zero":false},"axis":{"values":[0,5,10,15],"labelFontSize":19,"tickSize":-4,"labelPadding":5,"title":"Consumption rate - bₖ [flakes]","titleFontSize":19,"titlePadding":18}},
     "y2":{"field":"hi"},
     "color":{"field":"g","type":"nominal","scale":{"domain":["1fish","3fish","6fish"],"range":["#0072BD","#D95319","#66913A"]},"legend":null}}},
   {"data":{"name":"cbox"},"mark":{"type":"rule","strokeWidth":1.1,"strokeDash":[5,3],"opacity":0.85},"encoding":{"x":{"field":"g","type":"nominal"},"y":{"field":"lo","type":"quantitative"},"y2":{"field":"q1"},"color":{"field":"g","type":"nominal"}}},
   {"data":{"name":"cbox"},"mark":{"type":"tick","orient":"horizontal","size":13,"thickness":1.3,"opacity":1},"encoding":{"x":{"field":"g","type":"nominal"},"y":{"field":"hi","type":"quantitative"},"color":{"field":"g","type":"nominal"}}},
   {"data":{"name":"cbox"},"mark":{"type":"tick","orient":"horizontal","size":13,"thickness":1.3,"opacity":1},"encoding":{"x":{"field":"g","type":"nominal"},"y":{"field":"lo","type":"quantitative"},"color":{"field":"g","type":"nominal"}}},
   {"data":{"name":"cbox"},"mark":{"type":"bar","filled":false,"size":28,"strokeWidth":1.3},"encoding":{"x":{"field":"g","type":"nominal"},"y":{"field":"q1","type":"quantitative"},"y2":{"field":"q3"},"color":{"field":"g","type":"nominal"}}},
   {"data":{"name":"cbox"},"mark":{"type":"tick","orient":"horizontal","size":28,"thickness":1.3,"opacity":1},"encoding":{"x":{"field":"g","type":"nominal"},"y":{"field":"med","type":"quantitative"},"color":{"field":"g","type":"nominal"}}},
   {"data":{"name":"cpts"},"mark":{"type":"point","filled":true,"size":42,"opacity":1},"encoding":{"x":{"field":"g","type":"nominal"},"y":{"field":"v","type":"quantitative"},"color":{"field":"g","type":"nominal"}}},
   {"data":{"name":"cbr"},"mark":{"type":"line","strokeWidth":1,"color":"#262626"},"encoding":{"x":{"field":"g","type":"nominal"},"y":{"field":"v","type":"quantitative"},"detail":{"field":"br"},"order":{"value":null}}},
   {"data":{"values":[{"g":"1fish","v":15.72},{"g":"3fish","v":18.14}]},"mark":{"type":"text","text":"*","fontSize":16,"align":"center","baseline":"middle","color":"#262626"},"encoding":{"x":{"field":"g","type":"nominal","bandPosition":1},"y":{"field":"v","type":"quantitative"}}},
   {"data":{"values":[{"g":"3fish","v":19.72}]},"mark":{"type":"text","text":"*","fontSize":16,"align":"center","baseline":"middle","color":"#262626"},"encoding":{"x":{"field":"g","type":"nominal","bandPosition":0.5},"y":{"field":"v","type":"quantitative"}}},
   {"data":{"values":[{}]},"mark":{"type":"text","text":"C","fontSize":28,"align":"left","baseline":"middle"},"encoding":{"x":{"datum":"1fish","type":"nominal","bandPosition":-1.19},"y":{"datum":21.0,"type":"quantitative"}}}
  ]}
  ],"spacing":102,"bounds":"flush","resolve":{"scale":{"color":"independent"},"legend":{"color":"independent"}}}
 ],"spacing":0,"bounds":"flush","resolve":{"scale":{"color":"independent"},"legend":{"color":"independent"}}},
 {"hconcat":[
  {"width":66,"height":1,"data":{"values":[]},"mark":{"type":"point"}},
  {"hconcat":[
  {"width":80,"height":183,"resolve":{"scale":{"color":"independent"}},"layer":[
   {"data":{"name":"spdbox"},"mark":{"type":"rule","strokeWidth":1},"encoding":{
     "x":{"field":"g","type":"nominal","scale":{"type":"band","domain":["1fish","3fish","6fish"],"paddingInner":0,"paddingOuter":0},"axis":{"title":null,"labelAngle":30,"labelAlign":"left","labelBaseline":"top","labelFontSize":16,"tickSize":-3,"labelPadding":0,"labelOverlap":false,"labelBound":false}},
     "y":{"field":"q3","type":"quantitative","scale":{"domain":[1.22,4.32],"nice":false,"zero":false},"axis":{"values":[2,3,4],"format":"~g","labelFontSize":17,"tickSize":-3,"labelPadding":3,"title":"Speed [BL/s]","titleFontSize":18,"titlePadding":14}},
     "y2":{"field":"hi"},
     "color":{"field":"g","type":"nominal","scale":{"domain":["1fish","3fish","6fish"],"range":["#6AAEE0","#EE9C7A","#9BBA7C"]},"legend":null}}},
   {"data":{"name":"spdbox"},"mark":{"type":"rule","strokeWidth":1},"encoding":{"x":{"field":"g","type":"nominal"},"y":{"field":"lo","type":"quantitative"},"y2":{"field":"q1"},"color":{"field":"g","type":"nominal","scale":{"domain":["1fish","3fish","6fish"],"range":["#6AAEE0","#EE9C7A","#9BBA7C"]},"legend":null}}},
   {"data":{"name":"spdbox"},"mark":{"type":"bar","filled":false,"size":12,"strokeWidth":1},"encoding":{"x":{"field":"g","type":"nominal"},"y":{"field":"q1","type":"quantitative"},"y2":{"field":"q3"},"color":{"field":"g","type":"nominal","scale":{"domain":["1fish","3fish","6fish"],"range":["#6AAEE0","#EE9C7A","#9BBA7C"]},"legend":null}}},
   {"data":{"name":"spdbox"},"mark":{"type":"tick","orient":"horizontal","size":12,"thickness":1,"opacity":1},"encoding":{"x":{"field":"g","type":"nominal"},"y":{"field":"med","type":"quantitative"},"color":{"field":"g","type":"nominal","scale":{"domain":["1fish","3fish","6fish"],"range":["#6AAEE0","#EE9C7A","#9BBA7C"]},"legend":null}}},
   {"data":{"name":"spd"},"mark":{"type":"point","filled":true,"size":36,"opacity":1},"encoding":{"x":{"field":"g","type":"nominal"},"y":{"field":"v","type":"quantitative"},"color":{"field":"g","type":"nominal","scale":{"domain":["1fish","3fish","6fish"],"range":["#0072BD","#D95319","#66913A"]},"legend":null}}},
   {"data":{"values":[{}]},"mark":{"type":"text","text":"D","fontSize":28,"align":"left","baseline":"middle"},"encoding":{"x":{"datum":"1fish","type":"nominal","bandPosition":-2.475},"y":{"datum":4.69,"type":"quantitative"}}}
  ]},
  {"width":75,"height":183,"resolve":{"scale":{"color":"independent"}},"layer":[
   {"data":{"name":"polbox"},"mark":{"type":"rule","strokeWidth":1},"encoding":{
     "x":{"field":"g","type":"nominal","scale":{"type":"band","domain":["3fish","6fish"],"paddingInner":0,"paddingOuter":0},"axis":{"title":null,"labelAngle":30,"labelAlign":"left","labelBaseline":"top","labelFontSize":16,"tickSize":-3,"labelPadding":0,"labelOverlap":false,"labelBound":false}},
     "y":{"field":"q3","type":"quantitative","scale":{"domain":[0.407,0.819],"nice":false,"zero":false},"axis":{"values":[0.5,0.6,0.7,0.8],"labelExpr":"replace(format(datum.value,'.1f'),'0.','.')","labelFontSize":17,"tickSize":-3,"labelPadding":3,"title":"Polarity","titleFontSize":18,"titlePadding":12}},
     "y2":{"field":"hi"},
     "color":{"field":"g","type":"nominal","scale":{"domain":["3fish","6fish"],"range":["#EE9C7A","#9BBA7C"]},"legend":null}}},
   {"data":{"name":"polbox"},"mark":{"type":"rule","strokeWidth":1},"encoding":{"x":{"field":"g","type":"nominal"},"y":{"field":"lo","type":"quantitative"},"y2":{"field":"q1"},"color":{"field":"g","type":"nominal","scale":{"domain":["3fish","6fish"],"range":["#EE9C7A","#9BBA7C"]},"legend":null}}},
   {"data":{"name":"polbox"},"mark":{"type":"bar","filled":false,"size":13,"strokeWidth":1},"encoding":{"x":{"field":"g","type":"nominal"},"y":{"field":"q1","type":"quantitative"},"y2":{"field":"q3"},"color":{"field":"g","type":"nominal","scale":{"domain":["3fish","6fish"],"range":["#EE9C7A","#9BBA7C"]},"legend":null}}},
   {"data":{"name":"polbox"},"mark":{"type":"tick","orient":"horizontal","size":13,"thickness":1,"opacity":1},"encoding":{"x":{"field":"g","type":"nominal"},"y":{"field":"med","type":"quantitative"},"color":{"field":"g","type":"nominal","scale":{"domain":["3fish","6fish"],"range":["#EE9C7A","#9BBA7C"]},"legend":null}}},
   {"data":{"name":"pol"},"mark":{"type":"point","filled":true,"size":36,"opacity":1},"encoding":{"x":{"field":"g","type":"nominal"},"y":{"field":"v","type":"quantitative"},"color":{"field":"g","type":"nominal","scale":{"domain":["3fish","6fish"],"range":["#D95319","#66913A"]},"legend":null}}}
  ]},
  {"width":80,"height":183,"resolve":{"scale":{"color":"independent"}},"layer":[
   {"data":{"name":"dnnbox"},"mark":{"type":"rule","strokeWidth":1},"encoding":{
     "x":{"field":"g","type":"nominal","scale":{"type":"band","domain":["3fish","6fish"],"paddingInner":0,"paddingOuter":0},"axis":{"title":null,"labelAngle":30,"labelAlign":"left","labelBaseline":"top","labelFontSize":16,"tickSize":-3,"labelPadding":0,"labelOverlap":false,"labelBound":false}},
     "y":{"field":"q3","type":"quantitative","scale":{"domain":[1.78,9.73],"nice":false,"zero":false},"axis":{"values":[2,4,6,8],"labelFontSize":17,"tickSize":-3,"labelPadding":3,"title":"Dₙₙ [BL]","titleFontSize":18,"titlePadding":11}},
     "y2":{"field":"hi"},
     "color":{"field":"g","type":"nominal","scale":{"domain":["3fish","6fish"],"range":["#EE9C7A","#9BBA7C"]},"legend":null}}},
   {"data":{"name":"dnnbox"},"mark":{"type":"rule","strokeWidth":1},"encoding":{"x":{"field":"g","type":"nominal"},"y":{"field":"lo","type":"quantitative"},"y2":{"field":"q1"},"color":{"field":"g","type":"nominal","scale":{"domain":["3fish","6fish"],"range":["#EE9C7A","#9BBA7C"]},"legend":null}}},
   {"data":{"name":"dnnbox"},"mark":{"type":"bar","filled":false,"size":12,"strokeWidth":1},"encoding":{"x":{"field":"g","type":"nominal"},"y":{"field":"q1","type":"quantitative"},"y2":{"field":"q3"},"color":{"field":"g","type":"nominal","scale":{"domain":["3fish","6fish"],"range":["#EE9C7A","#9BBA7C"]},"legend":null}}},
   {"data":{"name":"dnnbox"},"mark":{"type":"tick","orient":"horizontal","size":12,"thickness":1,"opacity":1},"encoding":{"x":{"field":"g","type":"nominal"},"y":{"field":"med","type":"quantitative"},"color":{"field":"g","type":"nominal","scale":{"domain":["3fish","6fish"],"range":["#EE9C7A","#9BBA7C"]},"legend":null}}},
   {"data":{"name":"dnn"},"mark":{"type":"point","filled":true,"size":36,"opacity":1},"encoding":{"x":{"field":"g","type":"nominal"},"y":{"field":"v","type":"quantitative"},"color":{"field":"g","type":"nominal","scale":{"domain":["3fish","6fish"],"range":["#D95319","#66913A"]},"legend":null}}}
  ]}
  ],"spacing":46,"bounds":"flush","resolve":{"scale":{"color":"independent"}}}
 ],"spacing":0,"bounds":"flush","resolve":{"scale":{"color":"independent"}}}
]}
]
}
